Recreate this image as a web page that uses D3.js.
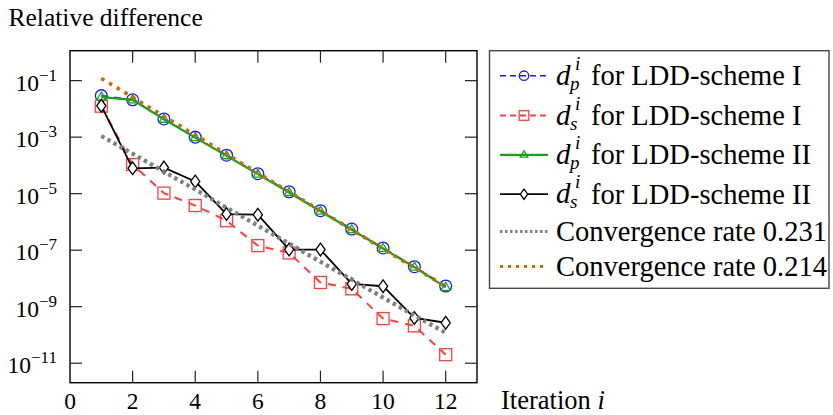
<!DOCTYPE html>
<html>
<head>
<meta charset="utf-8">
<script src="https://cdn.jsdelivr.net/npm/d3@7"></script>
<style>
  html, body { margin: 0; padding: 0; background: #fff; }
  svg { display: block; font-family: "Liberation Serif", "Times New Roman", serif; }
</style>
</head>
<body>
<svg id="chart" width="833" height="415"></svg>
<script>
// Iteration index
const iterations = [1, 2, 3, 4, 5, 6, 7, 8, 9, 10, 11, 12];

// Relative differences per iteration
const dpSchemeI  = [0.0295, 0.021, 4.4e-3, 1.0e-3, 2.3e-4, 5.1e-5, 1.17e-5, 2.5e-6, 5.6e-7, 1.2e-7, 2.6e-8, 5.4e-9];
const dsSchemeI  = [0.0125, 1.07e-4, 1.05e-5, 3.8e-6, 1.1e-6, 1.45e-7, 8.0e-8, 7.2e-9, 4.3e-9, 3.8e-10, 2.1e-10, 2.0e-11];
const dpSchemeII = [0.026, 0.021, 4.3e-3, 9.6e-4, 2.2e-4, 4.9e-5, 1.1e-5, 2.4e-6, 5.3e-7, 1.15e-7, 2.5e-8, 4.8e-9];
const dsSchemeII = [0.0129, 7.9e-5, 8.4e-5, 2.7e-5, 1.9e-6, 1.8e-6, 1.05e-7, 1.05e-7, 6.4e-9, 5.3e-9, 4.0e-10, 2.7e-10];

// Reference convergence-rate lines
const rate0231 = [1.1e-3, 2.6e-4, 6.0e-5, 1.4e-5, 3.2e-6, 7.4e-7, 1.7e-7, 3.9e-8, 9.1e-9, 2.1e-9, 4.9e-10, 1.2e-10];
const rate0214 = [0.12, 2.6e-2, 5.5e-3, 1.2e-3, 2.5e-4, 5.4e-5, 1.15e-5, 2.5e-6, 5.3e-7, 1.1e-7, 2.4e-8, 5.2e-9];

// Axis ticks
const xTicks = [0, 2, 4, 6, 8, 10, 12];
const yTickExponents = [-1, -3, -5, -7, -9, -11];
const superscriptDigits = { "-": "\u2212", "0": "0", "1": "1", "2": "2", "3": "3", "4": "4", "5": "5", "6": "6", "7": "7", "8": "8", "9": "9" };

const svg = d3.select("#chart");

const plot = { left: 70, right: 477, top: 50.7, bottom: 382.7 };

const x = d3.scaleLinear().domain([0, 13]).range([plot.left, plot.right]);
const y = d3.scaleLog().domain([Math.pow(10, -11.69), Math.pow(10, 0.06)]).range([plot.bottom, plot.top]);

const series = [
  { name: "dpI",  sub: "p", scheme: "I",  values: dpSchemeI,  color: "#1a1aff", width: 1.6, dash: "7,6", marker: "circle" },
  { name: "dsI",  sub: "s", scheme: "I",  values: dsSchemeI,  color: "#ff4040", width: 2.0, dash: "8,7", marker: "square" },
  { name: "dpII", sub: "p", scheme: "II", values: dpSchemeII, color: "#1aa31a", width: 2.2, dash: null,  marker: "triangle" },
  { name: "dsII", sub: "s", scheme: "II", values: dsSchemeII, color: "#000000", width: 1.8, dash: null,  marker: "diamond" }
];
const rates = [
  { label: "Convergence rate 0.231", values: rate0231, color: "#808080", width: 4.2, dash: "3.5,3.5", legendWidth: 3, legendDash: "2.5,2.5" },
  { label: "Convergence rate 0.214", values: rate0214, color: "#cc6a00", width: 3.6, dash: "3.5,5.5", legendWidth: 3, legendDash: "3,5" }
];

const line = d3.line().x((d, i) => x(iterations[i])).y(d => y(d));

function drawMarker(g, kind, cx, cy, color, scale) {
  const s = scale || 1;
  if (kind === "circle") {
    g.append("circle").attr("cx", cx).attr("cy", cy).attr("r", 5.9 * s)
      .attr("fill", "none").attr("stroke", color).attr("stroke-width", 1.3);
  } else if (kind === "square") {
    const h = 6 * s;
    g.append("rect").attr("x", cx - h).attr("y", cy - h).attr("width", 2 * h).attr("height", 2 * h)
      .attr("fill", "none").attr("stroke", color).attr("stroke-width", 1.3);
  } else if (kind === "triangle") {
    const h = 5 * s;
    g.append("path").attr("d", `M${cx},${cy - h}L${cx + h * 0.95},${cy + h * 0.6}L${cx - h * 0.95},${cy + h * 0.6}Z`)
      .attr("fill", "none").attr("stroke", color).attr("stroke-width", 1.3);
  } else if (kind === "diamond") {
    const w = 4.6 * s, h = 6.4 * s;
    g.append("path").attr("d", `M${cx},${cy - h}L${cx + w},${cy}L${cx},${cy + h}L${cx - w},${cy}Z`)
      .attr("fill", "#fff").attr("stroke", color).attr("stroke-width", 1.3);
  }
}

// Axis frame with inward ticks on all four sides
const axes = svg.append("g");
axes.append("rect").attr("x", plot.left).attr("y", plot.top)
  .attr("width", plot.right - plot.left).attr("height", plot.bottom - plot.top)
  .attr("fill", "none").attr("stroke", "#000").attr("stroke-width", 1.4);

const tickLen = 12;
xTicks.filter(t => t > 0).forEach(t => {
  axes.append("line").attr("x1", x(t)).attr("x2", x(t)).attr("y1", plot.bottom).attr("y2", plot.bottom - tickLen)
    .attr("stroke", "#222").attr("stroke-width", 1.2);
  axes.append("line").attr("x1", x(t)).attr("x2", x(t)).attr("y1", plot.top).attr("y2", plot.top + tickLen)
    .attr("stroke", "#222").attr("stroke-width", 1.2);
});
yTickExponents.forEach(e => {
  const yy = y(Math.pow(10, e));
  axes.append("line").attr("x1", plot.left).attr("x2", plot.left + tickLen).attr("y1", yy).attr("y2", yy)
    .attr("stroke", "#222").attr("stroke-width", 1.2);
  axes.append("line").attr("x1", plot.right).attr("x2", plot.right - tickLen).attr("y1", yy).attr("y2", yy)
    .attr("stroke", "#222").attr("stroke-width", 1.2);
});

// Tick labels
xTicks.forEach(t => {
  axes.append("text").attr("x", x(t)).attr("y", 409).attr("text-anchor", "middle")
    .attr("font-size", 23.5).text(t);
});
yTickExponents.forEach(e => {
  const yy = y(Math.pow(10, e));
  const txt = axes.append("text").attr("x", 57).attr("y", yy + 10).attr("text-anchor", "end").attr("font-size", 23.5);
  txt.append("tspan").text("10");
  txt.append("tspan").attr("font-size", 17).attr("dy", -10)
    .text(String(e).split("").map(c => superscriptDigits[c]).join(""));
});

// Axis titles
svg.append("text").attr("x", 8.5).attr("y", 25.5).attr("font-size", 25.5).text("Relative difference");
const xt = svg.append("text").attr("x", 501).attr("y", 409).attr("font-size", 26.5);
xt.append("tspan").text("Iteration ");
xt.append("tspan").attr("font-style", "italic").text("i");

// Data lines
const dataG = svg.append("g");
series.forEach(s => {
  dataG.append("path").datum(s.values).attr("d", line)
    .attr("fill", "none").attr("stroke", s.color).attr("stroke-width", s.width)
    .attr("stroke-dasharray", s.dash).attr("stroke-linejoin", "round");
  const mg = dataG.append("g");
  s.values.forEach((v, i) => drawMarker(mg, s.marker, x(iterations[i]), y(v), s.color, 1));
});
rates.forEach(r => {
  dataG.append("path").datum(r.values).attr("d", line)
    .attr("fill", "none").attr("stroke", r.color).attr("stroke-width", r.width)
    .attr("stroke-dasharray", r.dash);
});

// Legend
const legend = svg.append("g");
legend.append("rect").attr("x", 489.5).attr("y", 50.7).attr("width", 339.5).attr("height", 237.6)
  .attr("fill", "#fff").attr("stroke", "#444").attr("stroke-width", 1.4);
const rowY = [75.7, 115.5, 154.8, 194.2, 231.5, 266.5];
const sampleX0 = 500, sampleX1 = 548, textX = 556;
series.forEach((s, k) => {
  const yy = rowY[k];
  legend.append("line").attr("x1", sampleX0).attr("x2", sampleX1).attr("y1", yy).attr("y2", yy)
    .attr("stroke", s.color).attr("stroke-width", s.width).attr("stroke-dasharray", s.dash ? "6,4" : null);
  drawMarker(legend, s.marker, (sampleX0 + sampleX1) / 2, yy, s.color, 0.8);
  legend.append("text").attr("x", textX).attr("y", yy + 9).attr("font-size", 29).attr("font-style", "italic").text("d");
  legend.append("text").attr("x", textX + 19).attr("y", yy - 6).attr("font-size", 19).attr("font-style", "italic").text("i");
  legend.append("text").attr("x", textX + 14).attr("y", yy + 14).attr("font-size", 19).attr("font-style", "italic").text(s.sub);
  legend.append("text").attr("x", 591).attr("y", yy + 9.5).attr("font-size", 28.5).text("for LDD-scheme " + s.scheme);
});
rates.forEach((r, k) => {
  const yy = rowY[4 + k];
  legend.append("line").attr("x1", sampleX0).attr("x2", sampleX1).attr("y1", yy).attr("y2", yy)
    .attr("stroke", r.color).attr("stroke-width", r.legendWidth).attr("stroke-dasharray", r.legendDash);
  legend.append("text").attr("x", textX).attr("y", yy + 9.5).attr("font-size", 28.5).text(r.label);
});
</script>
</body>
</html>
